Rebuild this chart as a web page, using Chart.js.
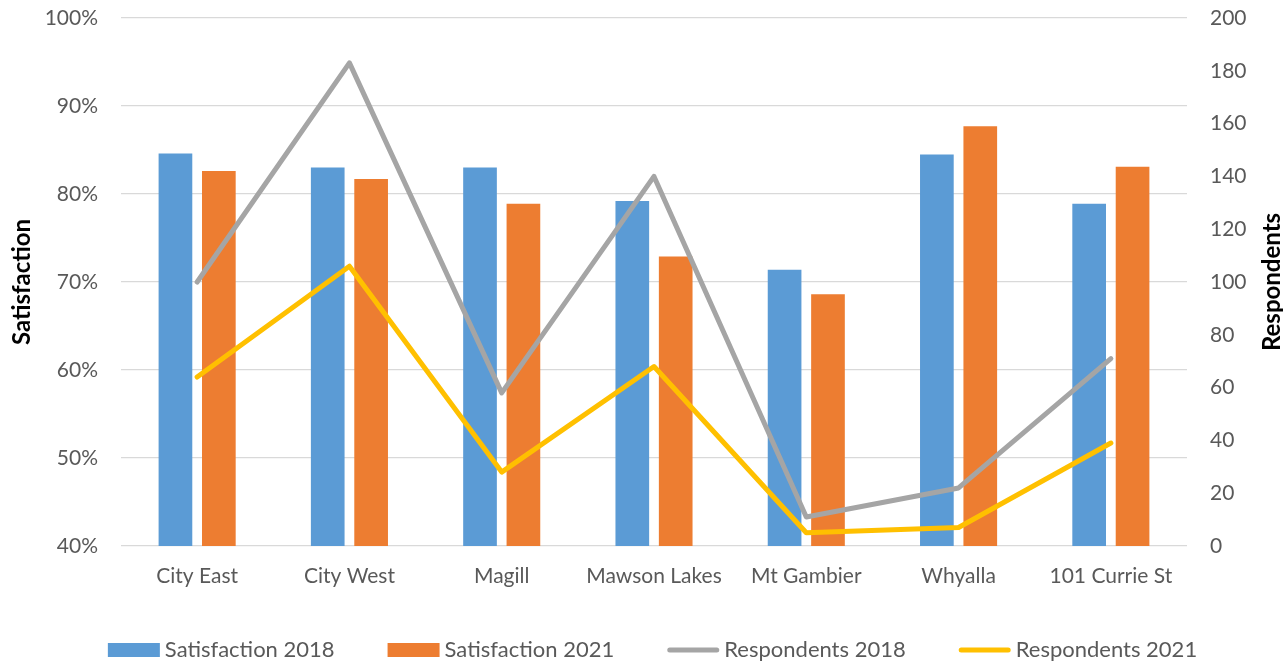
<!DOCTYPE html>
<html>
<head>
<meta charset="utf-8">
<title>Satisfaction and Respondents by Campus</title>
<script src="https://cdn.jsdelivr.net/npm/chart.js@4.4.1/dist/chart.umd.min.js"></script>
<style>
  html, body { margin: 0; padding: 0; background: #ffffff; }
  #wrap { position: relative; width: 1283px; height: 662px; }
</style>
</head>
<body>
<div id="wrap"><canvas id="chart"></canvas></div>
<script>
// Campus categories
const campuses = ['City East', 'City West', 'Magill', 'Mawson Lakes', 'Mt Gambier', 'Whyalla', '101 Currie St'];

// Satisfaction (%) per campus
const satisfaction2018 = [84.6, 83.0, 83.0, 79.2, 71.4, 84.5, 78.9];
const satisfaction2021 = [82.6, 81.7, 78.9, 72.9, 68.6, 87.7, 83.1];

// Number of respondents per campus
const respondents2018 = [100, 183, 58, 140, 11, 22, 71];
const respondents2021 = [64, 106, 28, 68, 5, 7, 39];

// Axis ranges and titles
const satisfactionTicks = { min: 40, max: 100, step: 10 };
const respondentTicks = { min: 0, max: 200, step: 20 };
const leftTitle = 'Satisfaction';
const rightTitle = 'Respondents';

const FONT = 'Lato, "Open Sans", "Liberation Sans", sans-serif';
const TEXT_GREY = '#595959';
const GRID_GREY = '#d9d9d9';

// Right axis title reads bottom-to-top, like the left one
const rightTitlePlugin = {
  id: 'rightTitle',
  afterDraw(chart) {
    const ctx = chart.ctx;
    const area = chart.chartArea;
    ctx.save();
    ctx.translate(1272, (area.top + area.bottom) / 2);
    ctx.rotate(-Math.PI / 2);
    ctx.font = 'bold 24px ' + FONT;
    ctx.fillStyle = '#000000';
    ctx.textAlign = 'center';
    ctx.textBaseline = 'middle';
    ctx.fillText(rightTitle, 0, 0);
    ctx.restore();
  }
};

// Legend row along the bottom: boxes for bars, strokes for lines
const legendRowPlugin = {
  id: 'legendRow',
  afterDraw(chart) {
    const ctx = chart.ctx;
    const keyW = 52, keyH = 14, keyGap = 5, itemGap = 53;
    const cy = 650, centerX = 652.5;
    ctx.save();
    ctx.font = '22px ' + FONT;
    const items = chart.data.datasets.map(ds => ({
      ds, textW: ctx.measureText(ds.label).width
    }));
    const total = items.reduce((s, it) => s + keyW + keyGap + it.textW, 0) + itemGap * (items.length - 1);
    let x = centerX - total / 2;
    items.forEach(({ ds, textW }) => {
      if (ds.type === 'line') {
        const lw = ds.borderWidth;
        ctx.strokeStyle = ds.borderColor;
        ctx.lineWidth = lw;
        ctx.lineCap = 'round';
        ctx.beginPath();
        ctx.moveTo(x + lw / 2, cy);
        ctx.lineTo(x + keyW - lw / 2, cy);
        ctx.stroke();
      } else {
        ctx.fillStyle = ds.backgroundColor;
        ctx.fillRect(x, cy - keyH / 2, keyW, keyH);
      }
      ctx.fillStyle = TEXT_GREY;
      ctx.textAlign = 'left';
      ctx.textBaseline = 'middle';
      ctx.fillText(ds.label, x + keyW + keyGap, cy);
      x += keyW + keyGap + textW + itemGap;
    });
    ctx.restore();
  }
};

// Value axes keep their full height: no extra room for the end labels
function fitValueAxis(width) {
  return function (scale) {
    scale.width = width;
    scale.paddingTop = 0;
    scale.paddingBottom = 0;
  };
}

new Chart(document.getElementById('chart'), {
  data: {
    labels: campuses,
    datasets: [
      {
        type: 'bar', label: 'Satisfaction 2018', data: satisfaction2018,
        backgroundColor: '#5b9bd5', yAxisID: 'y', order: 2,
        categoryPercentage: 0.57, barPercentage: 0.776
      },
      {
        type: 'bar', label: 'Satisfaction 2021', data: satisfaction2021,
        backgroundColor: '#ed7d31', yAxisID: 'y', order: 3,
        categoryPercentage: 0.57, barPercentage: 0.776
      },
      {
        type: 'line', label: 'Respondents 2018', data: respondents2018,
        borderColor: '#a5a5a5', backgroundColor: '#a5a5a5', borderWidth: 5,
        borderCapStyle: 'round', borderJoinStyle: 'round',
        pointRadius: 0, pointHoverRadius: 0, tension: 0, fill: false,
        yAxisID: 'y1', order: 1
      },
      {
        type: 'line', label: 'Respondents 2021', data: respondents2021,
        borderColor: '#ffc000', backgroundColor: '#ffc000', borderWidth: 5,
        borderCapStyle: 'round', borderJoinStyle: 'round',
        pointRadius: 0, pointHoverRadius: 0, tension: 0, fill: false,
        yAxisID: 'y1', order: 0
      }
    ]
  },
  options: {
    responsive: true,
    maintainAspectRatio: false,
    animation: false,
    layout: { padding: { top: 18, left: 0, right: 0, bottom: 0 } },
    plugins: {
      legend: { display: false },
      tooltip: { enabled: false },
      title: { display: false }
    },
    scales: {
      x: {
        grid: { display: false, drawTicks: false },
        border: { display: false },
        ticks: { color: TEXT_GREY, font: { family: FONT, size: 21 }, padding: 18, maxRotation: 0, autoSkip: false },
        afterFit(scale) { scale.height = 116; }
      },
      y: {
        position: 'left',
        min: satisfactionTicks.min, max: satisfactionTicks.max,
        grid: { color: GRID_GREY, lineWidth: 1.3, drawTicks: false },
        border: { display: false },
        ticks: {
          stepSize: satisfactionTicks.step, color: TEXT_GREY, padding: 23,
          font: { family: FONT, size: 21 },
          callback: v => v + '%'
        },
        title: {
          display: true, text: leftTitle, color: '#000000',
          font: { family: FONT, size: 24, weight: 'bold' },
          padding: { top: 8, bottom: 0 }
        },
        afterFit: fitValueAxis(121)
      },
      y1: {
        position: 'right',
        min: respondentTicks.min, max: respondentTicks.max,
        grid: { display: false, drawTicks: false },
        border: { display: false },
        ticks: {
          stepSize: respondentTicks.step, color: TEXT_GREY, padding: 23,
          font: { family: FONT, size: 21 }
        },
        afterFit: fitValueAxis(96)
      }
    }
  },
  plugins: [rightTitlePlugin, legendRowPlugin]
});
</script>
</body>
</html>
